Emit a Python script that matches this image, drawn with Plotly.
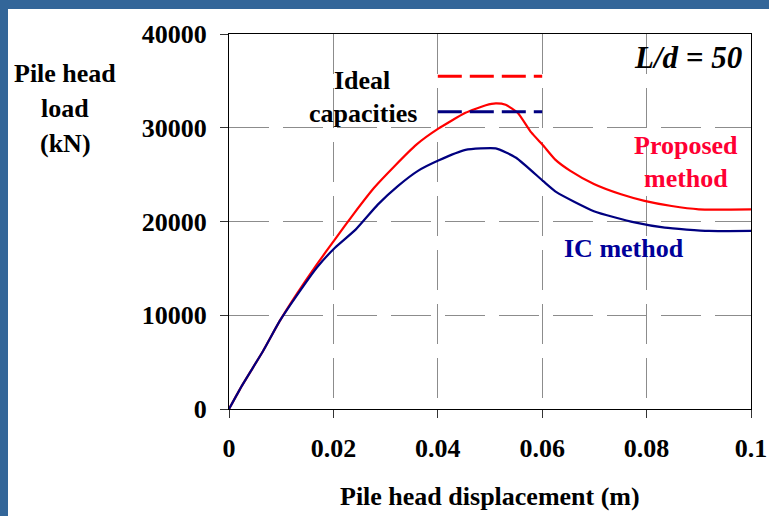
import plotly.graph_objects as go

# Pile head load-displacement response, L/d = 50
disp_proposed = [0, 0.0026, 0.0065, 0.0097, 0.0129, 0.0168, 0.0203, 0.024, 0.0278, 0.0317,
                 0.0359, 0.0401, 0.0453, 0.0492, 0.0511, 0.053, 0.0553, 0.0579, 0.0602,
                 0.0625, 0.0654, 0.0699, 0.0751, 0.0796, 0.0848, 0.09, 0.1]
load_proposed = [0, 2600, 6160, 9370, 12200, 15400, 18100, 20900, 23600, 25900,
                 28200, 29900, 31600, 32400, 32600, 32450, 31600, 29500, 28100,
                 26600, 25400, 24000, 22900, 22200, 21650, 21300, 21300]

disp_ic = [0, 0.0026, 0.0065, 0.0097, 0.0129, 0.0168, 0.0203, 0.0243, 0.0285, 0.0324,
           0.0362, 0.0401, 0.0453, 0.0511, 0.055, 0.0602, 0.0628, 0.0699, 0.0777,
           0.0835, 0.0919, 0.1]
load_ic = [0, 2600, 6160, 9370, 12040, 15070, 17200, 19160, 21800, 23800,
           25400, 26500, 27640, 27800, 26800, 24300, 23100, 21100, 19900,
           19340, 18990, 18990]

# Ideal capacities (horizontal reference segments)
ideal_x = [0.04, 0.06]
ideal_proposed = 35500
ideal_ic = 31700

x_ticks = [0, 0.02, 0.04, 0.06, 0.08, 0.1]
x_tick_text = ["0", "0.02", "0.04", "0.06", "0.08", "0.1"]
y_ticks = [0, 10000, 20000, 30000, 40000]
y_tick_text = ["0", "10000", "20000", "30000", "40000"]

RED = "#FF0000"
NAVY = "#000080"
SERIF = "Liberation Serif, Times New Roman, serif"

W, H = 769, 516
L, R, T, B = 229, 18, 34, 107
PW, PH = W - L - R, H - T - B


def px(xp):
    return (xp - L) / PW


def py(yp):
    return (H - B - yp) / PH


curve_line = dict(width=2.2, shape="spline", smoothing=0.5)
fig = go.Figure()
fig.add_trace(go.Scatter(x=disp_proposed, y=load_proposed, mode="lines",
                         line=dict(color=RED, **curve_line), showlegend=False))
fig.add_trace(go.Scatter(x=disp_ic, y=load_ic, mode="lines",
                         line=dict(color=NAVY, **curve_line), showlegend=False))
fig.add_trace(go.Scatter(x=ideal_x, y=[ideal_proposed] * 2, mode="lines",
                         line=dict(color=RED, width=3, dash="24px,8px"), showlegend=False))
fig.add_trace(go.Scatter(x=ideal_x, y=[ideal_ic] * 2, mode="lines",
                         line=dict(color=NAVY, width=3, dash="24px,8px"), showlegend=False))

axis_common = dict(
    showline=True, linecolor="black", linewidth=1, mirror=True,
    showgrid=True, gridcolor="#8c8c8c", gridwidth=1, griddash="40px,14px",
    ticks="outside", ticklen=8, tickcolor="#333333", tickwidth=1,
    zeroline=False, automargin=False,
    tickfont=dict(family=SERIF, size=26, color="black", weight="bold"),
)

fig.update_xaxes(range=[0, 0.1], tickvals=x_ticks, ticktext=x_tick_text,
                 ticklabelstandoff=8, **axis_common)
fig.update_yaxes(range=[0, 40000], tickvals=y_ticks, ticktext=y_tick_text,
                 ticklabelstandoff=8, **axis_common)


def label(text, xp, yp, color="black", size=26, italic=False, xanchor="center"):
    fig.add_annotation(
        x=px(xp), y=py(yp), xref="paper", yref="paper", text=text,
        showarrow=False, xanchor=xanchor, yanchor="middle",
        font=dict(family=SERIF, size=size, color=color, weight="bold",
                  style="italic" if italic else "normal"),
    )


label("Pile head", 65, 73)
label("load", 65, 108)
label("(kN)", 65, 143)
label("Ideal", 362, 81)
label("capacities", 363, 113)
label("L/d = 50", 744, 57, size=31, italic=True, xanchor="right")
label("Proposed", 686, 145, color="#FF0033")
label("method", 686, 178, color="#FF0033")
label("IC method", 624, 248, color="#000099")
label("Pile head displacement (m)", 490, 496)

# slide frame strips along the left and top edges
BLUE = "#336699"
fig.add_shape(type="rect", xref="paper", yref="paper", layer="above",
              x0=px(0), x1=px(8), y0=py(H), y1=py(0), fillcolor=BLUE, line_width=0)
fig.add_shape(type="rect", xref="paper", yref="paper", layer="above",
              x0=px(0), x1=px(W), y0=py(9), y1=py(0), fillcolor=BLUE, line_width=0)

fig.update_layout(
    width=W, height=H,
    margin=dict(l=L, r=R, t=T, b=B),
    paper_bgcolor="white", plot_bgcolor="white",
    font=dict(family=SERIF, color="black"),
)

fig.write_html("out.html")
